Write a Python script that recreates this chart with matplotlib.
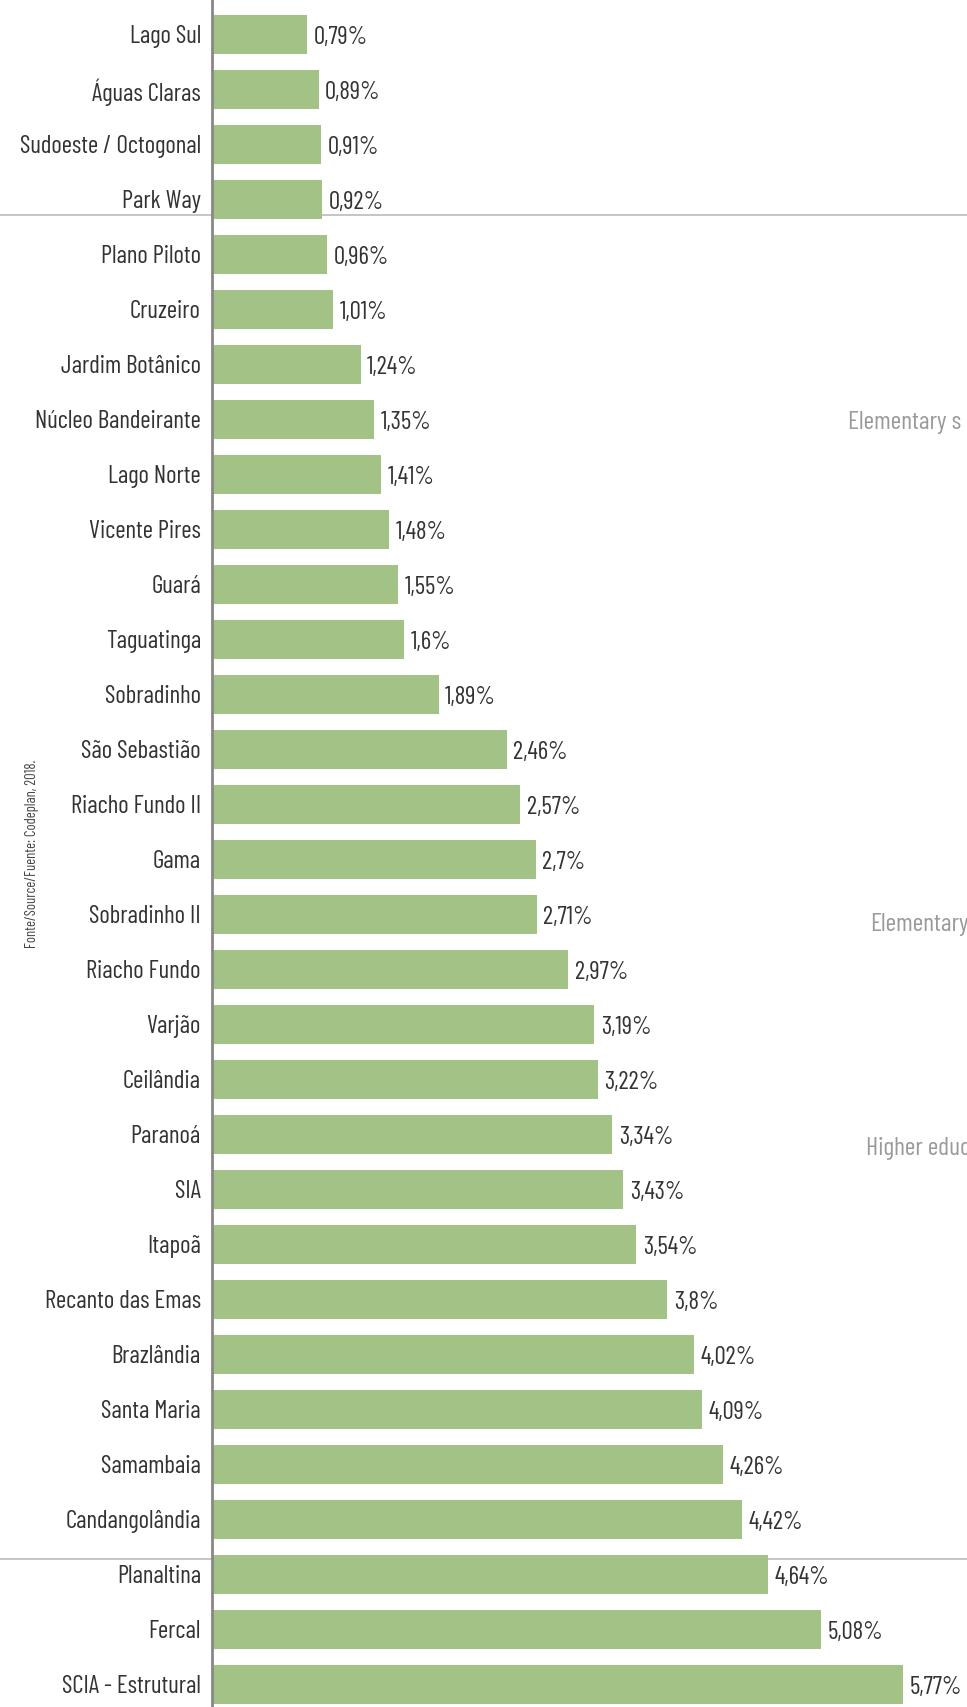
import numpy as np
import matplotlib
matplotlib.use("Agg")
import matplotlib.pyplot as plt

plt.rcParams['font.family'] = ['Barlow Condensed', 'Roboto', 'DejaVu Sans']

# dados
regioes = ["Lago Sul", "Águas Claras", "Sudoeste / Octogonal", "Park Way",
           "Plano Piloto", "Cruzeiro", "Jardim Botânico", "Núcleo Bandeirante",
           "Lago Norte", "Vicente Pires", "Guará", "Taguatinga", "Sobradinho",
           "São Sebastião", "Riacho Fundo II", "Gama", "Sobradinho II",
           "Riacho Fundo", "Varjão", "Ceilândia", "Paranoá", "SIA", "Itapoã",
           "Recanto das Emas", "Brazlândia", "Santa Maria", "Samambaia",
           "Candangolândia", "Planaltina", "Fercal", "SCIA - Estrutural"]
valores = [0.79, 0.89, 0.91, 0.92, 0.96, 1.01, 1.24, 1.35, 1.41, 1.48, 1.55,
           1.6, 1.89, 2.46, 2.57, 2.7, 2.71, 2.97, 3.19, 3.22, 3.34, 3.43,
           3.54, 3.8, 4.02, 4.09, 4.26, 4.42, 4.64, 5.08, 5.77]
legendas_dir = ["Elementary s", "Elementary", "Higher educ"]
fonte = "Fonte/Source/Fuente: Codeplan, 2018."

fig = plt.figure(figsize=(9.67, 17.07), dpi=100)
ax = fig.add_axes([212 / 967, 0, 1 - 212 / 967, 1])

y = np.arange(len(regioes))
ax.barh(y, valores, height=0.72, color="#a3c286", zorder=2)

# linhas cinza de separacao (atras das barras)
for yl in [3.28, 27.72]:
    ax.axhline(yl, xmin=-0.3, xmax=1, color="#bbbbbb", lw=1.2, zorder=1,
               clip_on=False)

for yi, v in zip(y, valores):
    txt = ("%g" % v).replace(".", ",") + "%"
    ax.text(v + 0.055, yi + 0.06, txt, va="center", ha="left",
            fontsize=18, color="#333333")

ax.set_xlim(0, 6.30)
ax.set_ylim(30.41, -0.627)
ax.set_yticks(y)
ax.set_yticklabels(regioes, fontsize=18, color="#333333")
ax.tick_params(axis="y", length=0, pad=8)
ax.set_xticks([])
for s in ["top", "right", "bottom"]:
    ax.spines[s].set_visible(False)
ax.spines["left"].set_color("#888888")
ax.spines["left"].set_linewidth(2)

# textos da camada lateral
fig.text(848 / 967, 1 - 422 / 1707, legendas_dir[0], fontsize=18.5,
         color="#9a9a9a", va="center", ha="left")
fig.text(870 / 967, 1 - 925 / 1707, legendas_dir[1], fontsize=18.5,
         color="#9a9a9a", va="center", ha="left")
fig.text(866 / 967, 1 - 1148 / 1707, legendas_dir[2], fontsize=18.5,
         color="#9a9a9a", va="center", ha="left")

fig.text(32 / 967, 1 - 854 / 1707, fonte, rotation=90, fontsize=10.5,
         color="#444444", va="center", ha="center")

fig.savefig("out.png", dpi=100)
